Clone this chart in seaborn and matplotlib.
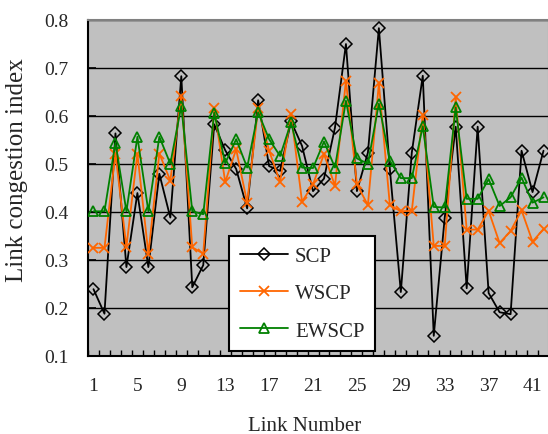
import numpy as np
import pandas as pd
import matplotlib
matplotlib.use("Agg")
import matplotlib.pyplot as plt
import seaborn as sns
from matplotlib.ticker import FixedLocator

links = list(range(1, 43))
scp = [0.239, 0.188, 0.563, 0.285, 0.439, 0.285, 0.479, 0.388, 0.682, 0.243,
       0.289, 0.582, 0.528, 0.489, 0.407, 0.632, 0.495, 0.485, 0.588, 0.537,
       0.443, 0.469, 0.575, 0.749, 0.443, 0.523, 0.782, 0.489, 0.233, 0.523,
       0.683, 0.142, 0.388, 0.577, 0.241, 0.577, 0.231, 0.191, 0.187, 0.527,
       0.441, 0.527]
wscp = [0.325, 0.325, 0.521, 0.327, 0.521, 0.313, 0.521, 0.465, 0.641, 0.326,
        0.313, 0.615, 0.462, 0.530, 0.419, 0.615, 0.527, 0.462, 0.603, 0.421,
        0.457, 0.520, 0.454, 0.673, 0.457, 0.414, 0.667, 0.414, 0.401, 0.402,
        0.602, 0.329, 0.329, 0.638, 0.363, 0.363, 0.402, 0.335, 0.360, 0.403,
        0.338, 0.364]
ewscp = [0.401, 0.401, 0.544, 0.401, 0.556, 0.401, 0.556, 0.500, 0.620, 0.401,
         0.395, 0.606, 0.501, 0.551, 0.492, 0.607, 0.551, 0.516, 0.586, 0.492,
         0.491, 0.546, 0.492, 0.631, 0.511, 0.500, 0.625, 0.506, 0.470, 0.470,
         0.578, 0.410, 0.409, 0.617, 0.427, 0.427, 0.468, 0.412, 0.430, 0.471,
         0.419, 0.430]
series_names = ["SCP", "WSCP", "EWSCP"]
xtick_labels = [1, 5, 9, 13, 17, 21, 25, 29, 33, 37, 41]
ytick_values = [0.1, 0.2, 0.3, 0.4, 0.5, 0.6, 0.7, 0.8]

sns.set_style("ticks")
plt.rcParams["font.family"] = ["Liberation Serif", "DejaVu Serif"]

fig = plt.figure(figsize=(5.48, 4.35), dpi=100)
ax = fig.add_axes([88 / 548, 1 - 357 / 435, 461 / 548, 336.5 / 435])
ax.set_facecolor("#C0C0C0")

styles = {
    "SCP": dict(color="black", marker="D", ms=5.8, mfc="none", mec="black", mew=1.1),
    "WSCP": dict(color="#FF6600", marker="x", ms=7, mec="#FF6600", mew=1.3),
    "EWSCP": dict(color="#008000", marker="^", ms=7, mfc="none", mec="#008000", mew=1.3),
}
for name, vals in zip(series_names, [scp, wscp, ewscp]):
    st = styles[name]
    sns.lineplot(x=links, y=vals, ax=ax, label=name, lw=1.3,
                 markersize=st["ms"], color=st["color"], marker=st["marker"],
                 markerfacecolor=st.get("mfc", st["color"]),
                 markeredgecolor=st["mec"], markeredgewidth=st["mew"],
                 zorder=3)

ax.set_xlim(0.5, 42.5)
ax.set_ylim(0.1, 0.8)
ax.set_yticks(ytick_values)
ax.set_yticklabels([f"{v:.1f}" for v in ytick_values])
ax.set_xticks(xtick_labels)
ax.set_xticklabels([str(v) for v in xtick_labels])
ax.xaxis.set_minor_locator(FixedLocator(np.arange(0.5, 43, 1.0)))

ax.grid(axis="y", color="black", lw=1.0, zorder=1)
ax.set_axisbelow(True)

ax.tick_params(axis="x", which="major", length=0, labelsize=14, pad=15)
ax.tick_params(axis="x", which="minor", direction="in", length=4, width=1, color="black")
ax.tick_params(axis="y", which="major", direction="in", length=6, width=1.2,
               labelsize=14, pad=14, color="black")

for s in ["left", "bottom"]:
    ax.spines[s].set_color("black")
    ax.spines[s].set_linewidth(1.5)
for s in ["top", "right"]:
    ax.spines[s].set_color("#808080")
    ax.spines[s].set_linewidth(1.5)

ax.set_xlabel("Link Number", fontsize=15)
ax.set_ylabel("Link congestion index", fontsize=18)
ax.xaxis.set_label_coords(0.47, -0.178)
ax.yaxis.set_label_coords(-0.13, 0.555)

leg = ax.legend(loc="lower left", bbox_to_anchor=(0.3065, 0.015), fontsize=15,
                frameon=True, fancybox=False, framealpha=1, edgecolor="black",
                handlelength=2.3, handletextpad=0.35, labelspacing=0.85,
                borderpad=0.5, borderaxespad=0)
leg.get_frame().set_linewidth(1.5)
leg.get_frame().set_facecolor("white")
leg.set_zorder(5)

fig.savefig("out.png", dpi=100)
